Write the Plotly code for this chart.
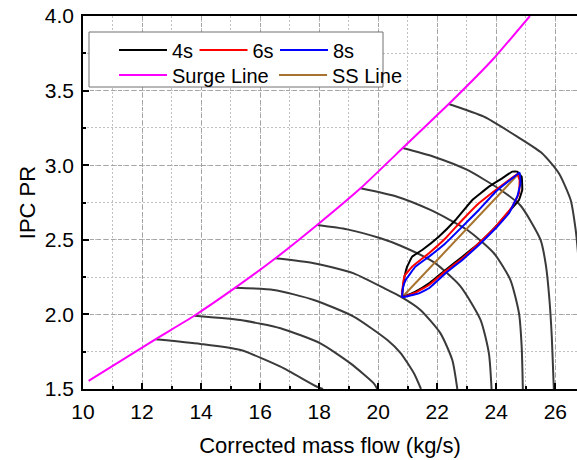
import plotly.graph_objects as go

# ---------------- data ----------------
surge_x = [10.19, 12.45, 13.77, 15.16, 16.52, 17.93, 19.40, 20.83, 22.39, 23.92, 25.14]
surge_y = [1.554, 1.833, 1.991, 2.179, 2.376, 2.599, 2.845, 3.115, 3.410, 3.717, 4.000]

speed_x = [
    [12.45, 13.98, 15.34, 16.69, 17.93, 18.13],
    [13.77, 15.33, 16.69, 18.04, 19.06, 19.85, 19.97],
    [15.16, 16.46, 17.82, 19.17, 20.31, 20.76, 21.21, 21.45],
    [16.52, 17.82, 19.17, 20.31, 20.76, 21.43, 22.11, 22.51, 22.68],
    [17.93, 18.95, 20.08, 20.76, 21.88, 22.78, 23.47, 23.75, 23.84],
    [19.40, 20.64, 21.77, 23.02, 23.92, 24.48, 24.77, 24.86, 24.90],
    [20.83, 21.88, 23.02, 24.15, 24.82, 25.50, 25.68, 25.80, 25.88, 25.93, 25.95],
    [22.39, 23.58, 24.71, 25.55, 26.12, 26.52, 26.69, 26.76, 26.85],
]
speed_y = [
    [1.833, 1.802, 1.761, 1.650, 1.515, 1.500],
    [1.991, 1.962, 1.907, 1.806, 1.672, 1.538, 1.500],
    [2.179, 2.164, 2.097, 1.985, 1.828, 1.741, 1.605, 1.500],
    [2.376, 2.343, 2.275, 2.164, 2.119, 2.030, 1.873, 1.694, 1.500],
    [2.599, 2.570, 2.510, 2.460, 2.350, 2.190, 1.962, 1.739, 1.500],
    [2.845, 2.789, 2.700, 2.566, 2.410, 2.230, 2.007, 1.784, 1.500],
    [3.115, 3.057, 2.968, 2.834, 2.730, 2.500, 2.330, 2.100, 1.850, 1.600, 1.500],
    [3.410, 3.325, 3.191, 3.080, 2.946, 2.767, 2.566, 2.430, 2.200],
]

t4_x = [20.81, 20.84, 20.90, 20.98, 21.15, 21.49, 22.05, 22.62, 23.19, 23.75, 24.20, 24.54, 24.71,
        24.86, 24.88, 24.77, 24.48, 23.98, 23.41, 22.85, 22.28, 21.72, 21.26, 20.81]
t4_y = [2.115, 2.180, 2.260, 2.320, 2.387, 2.432, 2.521, 2.633, 2.767, 2.856, 2.912, 2.957, 2.957,
        2.923, 2.834, 2.767, 2.700, 2.588, 2.477, 2.387, 2.298, 2.208, 2.152, 2.115]

t6_x = [20.81, 20.84, 20.90, 21.15, 21.72, 22.28, 22.85, 23.41, 23.98, 24.43, 24.71, 24.79, 24.77,
        24.54, 23.98, 23.41, 22.85, 22.28, 21.72, 21.26, 20.81]
t6_y = [2.115, 2.200, 2.262, 2.320, 2.410, 2.510, 2.633, 2.745, 2.834, 2.901, 2.940, 2.900, 2.812,
        2.722, 2.588, 2.477, 2.376, 2.290, 2.197, 2.145, 2.115]

t8_x = [20.81, 21.38, 21.72, 22.28, 22.85, 23.41, 23.98, 24.43, 24.71, 24.82, 24.79, 24.54,
        23.98, 23.41, 22.85, 22.28, 21.72, 21.26, 20.93, 20.84, 20.81]
t8_y = [2.115, 2.141, 2.175, 2.276, 2.365, 2.465, 2.577, 2.678, 2.789, 2.879, 2.950, 2.912,
        2.822, 2.700, 2.588, 2.477, 2.387, 2.320, 2.231, 2.180, 2.115]

ss_x = [20.81, 24.77]
ss_y = [2.115, 2.945]

x_ticks = [10, 12, 14, 16, 18, 20, 22, 24, 26]
y_ticks = [1.5, 2.0, 2.5, 3.0, 3.5, 4.0]

# ---------------- layout constants ----------------
W, H = 577, 460
ML, MR, MT, MB = 83, 0, 16, 71
PW, PH = W - ML - MR, H - MT - MB
FONT = "Liberation Sans, Arial, sans-serif"


def px_x(p):
    return (p - ML) / PW


def px_y(p):
    return 1 - (p - MT) / PH


fig = go.Figure()

for sx, sy in zip(speed_x, speed_y):
    fig.add_trace(go.Scatter(x=sx, y=sy, mode="lines", showlegend=False,
                             line=dict(color="#3a3a3a", width=2, shape="spline", smoothing=0.6),
                             hoverinfo="skip"))

fig.add_trace(go.Scatter(x=surge_x, y=surge_y, mode="lines", name="Surge Line",
                         line=dict(color="#FF00FF", width=2, shape="spline", smoothing=0.4),
                         legend="legend2"))
fig.add_trace(go.Scatter(x=ss_x, y=ss_y, mode="lines", name="SS Line",
                         line=dict(color="#A8732F", width=2), legend="legend2"))
fig.add_trace(go.Scatter(x=t4_x, y=t4_y, mode="lines", name="4s",
                         line=dict(color="#000000", width=2, shape="spline", smoothing=0.2),
                         legend="legend"))
fig.add_trace(go.Scatter(x=t6_x, y=t6_y, mode="lines", name="6s",
                         line=dict(color="#FF0000", width=2, shape="spline", smoothing=0.2),
                         legend="legend"))
fig.add_trace(go.Scatter(x=t8_x, y=t8_y, mode="lines", name="8s",
                         line=dict(color="#0000FF", width=2, shape="spline", smoothing=0.2),
                         legend="legend"))

axis_common = dict(
    showline=True, linecolor="black", linewidth=1.5, mirror=True,
    ticks="inside", ticklen=6, tickwidth=1.5, tickcolor="black",
    showgrid=True, gridcolor="#a4a4a4", griddash="4px,3px", gridwidth=1,
    zeroline=False,
    tickfont=dict(family=FONT, size=21, color="black"),
)

fig.update_xaxes(
    **axis_common,
    range=[10, 10 + PW / 29.52],
    tickmode="array", tickvals=x_ticks, ticktext=[str(v) for v in x_ticks],
    minor=dict(dtick=1, tick0=10, ticks="inside", ticklen=3, tickcolor="black", tickwidth=1.5,
               showgrid=True, gridcolor="#c0c0c0", griddash="2px,2px", gridwidth=1),
    title=dict(text="Corrected mass flow (kg/s)", font=dict(family=FONT, size=22, color="black"),
               standoff=16),
    ticklabelstandoff=3,
)
fig.update_yaxes(
    **axis_common,
    range=[1.5, 4.0],
    tickmode="array", tickvals=y_ticks, ticktext=[f"{v:.1f}" for v in y_ticks],
    minor=dict(dtick=0.25, tick0=1.5, ticks="inside", ticklen=3, tickcolor="black", tickwidth=1.5,
               showgrid=True, gridcolor="#c0c0c0", griddash="2px,2px", gridwidth=1),
    title=dict(text="IPC PR", font=dict(family=FONT, size=22, color="black"), standoff=3),
    ticklabelstandoff=3,
)
fig.update_yaxes(mirror=False)

# legend frame
fig.add_shape(type="rect", xref="paper", yref="paper",
              x0=px_x(89), x1=px_x(383), y0=px_y(87), y1=px_y(32),
              line=dict(color="#707070", width=1), fillcolor="white", layer="above")

leg_common = dict(orientation="h", xanchor="left", yanchor="top", bgcolor="rgba(0,0,0,0)",
                  borderwidth=0, font=dict(family=FONT, size=20, color="black"),
                  itemwidth=48, tracegroupgap=0)
fig.update_layout(
    width=W, height=H,
    margin=dict(l=ML, r=MR, t=MT, b=MB, autoexpand=False),
    paper_bgcolor="white", plot_bgcolor="white",
    showlegend=True,
    legend=dict(**leg_common, x=px_x(114), y=px_y(30.5), entrywidth=17.5),
    legend2=dict(**leg_common, x=px_x(114), y=px_y(55.5), entrywidth=97),
)

fig.write_html("out.html")
